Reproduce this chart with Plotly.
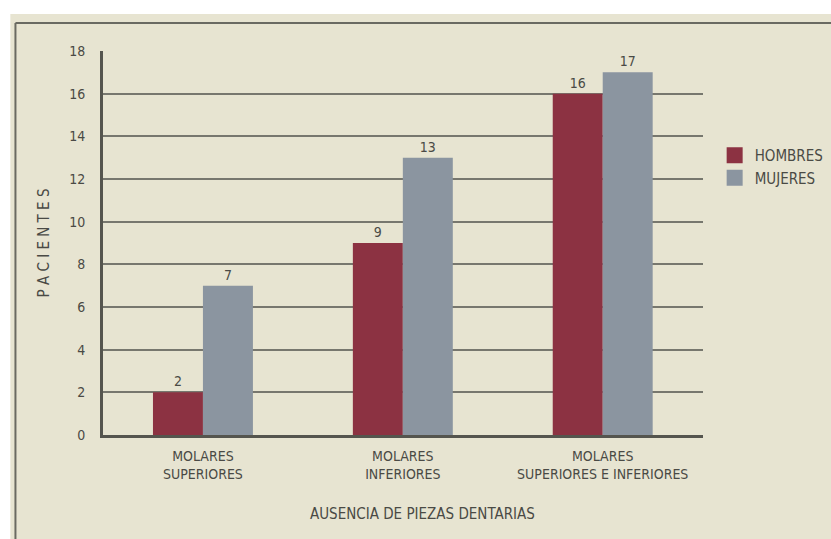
import plotly.graph_objects as go

# Ausencia de piezas dentarias por sexo
categorias = ["MOLARES<br>SUPERIORES", "MOLARES<br>INFERIORES", "MOLARES<br>SUPERIORES E INFERIORES"]
hombres = [2, 9, 16]
mujeres = [7, 13, 17]
y_ticks = [0, 2, 4, 6, 8, 10, 12, 14, 16, 18]

FONT = "DejaVu Sans Condensed, Liberation Sans Narrow, Arial Narrow, sans-serif"
INK = "#4a4a45"
BG = "#e7e4d1"
ROJO = "#8c3242"
GRIS = "#8b95a0"

fig = go.Figure()
fig.add_trace(go.Bar(
    x=categorias, y=hombres, name="HOMBRES", marker_color=ROJO,
    marker_line_width=0, text=hombres, textposition="outside",
    textfont=dict(family=FONT, size=14, color=INK), cliponaxis=False,
    showlegend=False,
))
fig.add_trace(go.Bar(
    x=categorias, y=mujeres, name="MUJERES", marker_color=GRIS,
    marker_line_width=0, text=mujeres, textposition="outside",
    textfont=dict(family=FONT, size=14, color=INK), cliponaxis=False,
    showlegend=False,
))
# legend swatches
for nombre, color in [("HOMBRES", ROJO), ("MUJERES", GRIS)]:
    fig.add_trace(go.Scatter(
        x=[None], y=[None], mode="markers", name=nombre,
        marker=dict(symbol="square", size=16, color=color),
    ))

fig.update_layout(
    width=831, height=539,
    margin=dict(l=103, r=126, t=51, b=104),
    paper_bgcolor=BG, plot_bgcolor=BG,
    barmode="group", bargap=0.5, bargroupgap=0,
    font=dict(family=FONT, color=INK, size=12),
    legend=dict(
        xref="container", yref="container",
        x=0.86, y=0.742, xanchor="left", yanchor="top",
        bgcolor="rgba(0,0,0,0)", font=dict(family=FONT, size=15, color=INK),
        tracegroupgap=0, itemwidth=30,
    ),
    xaxis=dict(
        showline=True, linecolor="#55554e", linewidth=3,
        showgrid=False, ticks="", ticklabelstandoff=6,
        tickfont=dict(family=FONT, size=14, color=INK),
    ),
    yaxis=dict(
        range=[0, 18], tickvals=y_ticks, ticktext=[str(v) for v in y_ticks],
        showline=True, linecolor="#55554e", linewidth=3,
        showgrid=True, gridcolor="#77776e", gridwidth=2,
        zeroline=False, ticks="", ticklabelstandoff=12,
        tickfont=dict(family=FONT, size=14, color=INK),
        title=dict(text="P A C I E N T E S",
                   font=dict(family=FONT, size=15, color=INK), standoff=16),
    ),
    annotations=[
        dict(text="AUSENCIA DE PIEZAS DENTARIAS", xref="paper", yref="paper",
             x=0.532, y=-0.205, xanchor="center", yanchor="middle",
             showarrow=False, font=dict(family=FONT, size=15, color=INK)),
    ],
    shapes=[
        # white margin strips and frame
        dict(type="rect", xref="paper", yref="paper", x0=-0.2, x1=1.3,
             y0=1.0964, y1=1.14, fillcolor="white", line_width=0, layer="below"),
        dict(type="rect", xref="paper", yref="paper", x0=-0.2, x1=-0.1545,
             y0=-0.3, y1=1.14, fillcolor="white", line_width=0, layer="below"),
        dict(type="line", xref="paper", yref="paper", x0=-0.146, x1=1.3,
             y0=1.0729, y1=1.0729, line=dict(color="#6a6a62", width=2)),
        dict(type="line", xref="paper", yref="paper", x0=-0.146, x1=-0.146,
             y0=-0.3, y1=1.0729, line=dict(color="#6a6a62", width=2)),
    ],
)

fig.write_html("out.html")
